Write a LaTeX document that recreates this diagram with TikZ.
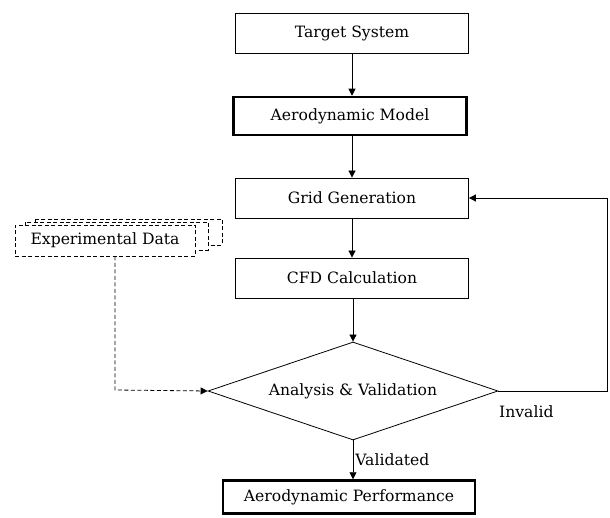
\documentclass[tikz,border=0pt]{standalone}
\usepackage{fontspec}
\setmainfont{DejaVu Serif}
\usetikzlibrary{shapes.geometric,arrows.meta}
\begin{document}
\begin{tikzpicture}[x=1pt,y=-1pt,
  font=\fontsize{15.6}{18}\selectfont,
  box/.style={draw, line width=0.8pt, minimum width=233pt, minimum height=40pt, inner sep=0pt},
  thickbox/.style={box, line width=2.5pt},
  arr/.style={-{Triangle[length=7pt,width=7pt]}, line width=0.8pt},
  dbox/.style={draw, dash pattern=on 4pt off 2.5pt, line width=0.8pt, fill=white},
  lbl/.style={inner sep=2pt}]
\useasboundingbox (0,0) rectangle (610,518);

\node[box] (ts) at (352,33) {Target System};
\node[thickbox, minimum height=38pt] (am) at (350,116) {Aerodynamic Model};
\node[box] (gg) at (352,198) {Grid Generation};
\node[box] (cfd) at (352,278) {CFD Calculation};
\node[draw, diamond, aspect=2.96, minimum width=290pt, minimum height=98pt, inner sep=0pt, line width=0.8pt] (dia) at (353,391) {Analysis \& Validation};
\node[thickbox, minimum width=252pt, minimum height=33pt] (ap) at (349,497) {Aerodynamic Performance};

\draw[dbox] (35,219) rectangle (222,245);
\draw[dbox] (25,222) rectangle (208,250);
\node[dbox, minimum width=180pt, minimum height=31pt, inner sep=0pt] (exp) at (105,240.5) {Experimental Data};

\draw[arr] (ts) -- (ts |- am.north);
\draw[arr] (am.south -| ts) -- (gg);
\draw[arr] (gg) -- (cfd);
\draw[arr] (cfd.south -| dia) -- (dia.north);
\draw[arr] (dia.south) -- (dia.south |- ap.north) node[midway, right, lbl] {Validated};
\coordinate (fb) at (607,391);
\draw[arr] (dia.east) -- (fb) |- (gg.east);
\node[lbl, anchor=west] (inv) at (497,412) {Invalid};
\coordinate (ec) at (115,390);
\draw[arr, dash pattern=on 4pt off 2.5pt] ([xshift=10pt]exp.south) -- (ec) -- (dia.west);
\end{tikzpicture}
\end{document}
